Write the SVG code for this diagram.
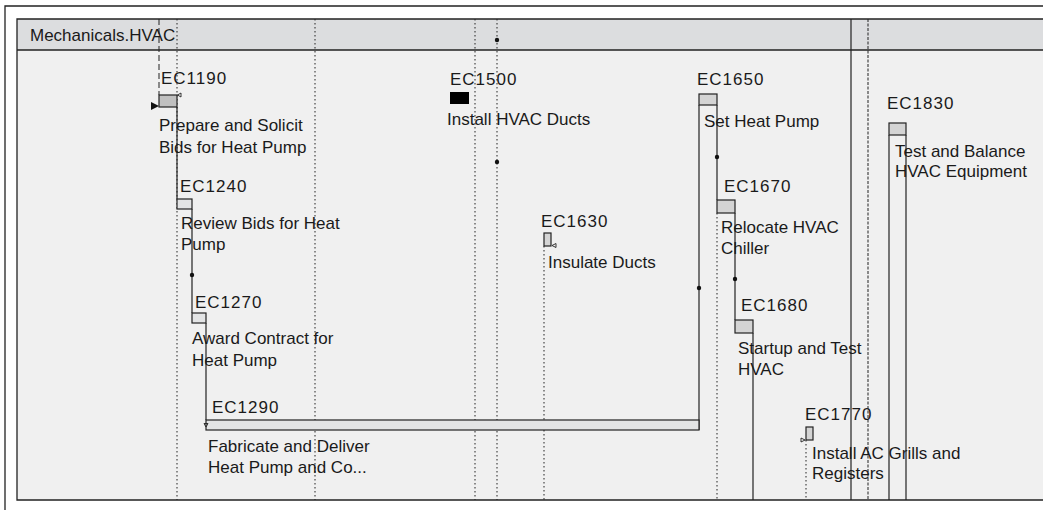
<svg xmlns="http://www.w3.org/2000/svg" width="1043" height="510" viewBox="0 0 1043 510">
<style>
text{font-family:"Liberation Sans",Arial,sans-serif;font-size:17px;fill:#1a1a1a}
.id{letter-spacing:1px}
.frame{fill:none;stroke:#222;stroke-width:1.3}
.solid{stroke:#222;stroke-width:1.2;fill:none}
.dot{stroke:#222;stroke-width:1;stroke-dasharray:1.5,2.5;fill:none}
.dash{stroke:#222;stroke-width:1;stroke-dasharray:6,3;fill:none}
.fdash{stroke:#222;stroke-width:1;stroke-dasharray:3,1.5;fill:none}
.bx{stroke:#222;stroke-width:1.2}
.g1{fill:#c0c0c0}
.g2{fill:#e3e4e5}
.g3{fill:#d4d4d4}
.pt{fill:#111}
.arr{fill:none;stroke:#222;stroke-width:0.9}
</style>
<rect x="0" y="0" width="1043" height="510" fill="#fff"/>
<path class="frame" d="M5,510 V6 H1043"/>
<g id="panel">
<rect x="17" y="19" width="1030" height="31" fill="#dcdddf"/>
<rect x="17" y="50" width="1030" height="450" fill="#f0f0f0"/>
<path class="frame" d="M1043,19 H17 V500 H1043 M17,50 H1043"/>
<text x="30" y="41">Mechanicals.HVAC</text>
</g>
<g id="connectors">
<line class="dash" x1="159" y1="19" x2="159" y2="95"/>
<line class="dot" x1="177" y1="19" x2="177" y2="500"/>
<line class="dot" x1="315" y1="19" x2="315" y2="500"/>
<line class="dot" x1="475" y1="19" x2="475" y2="500"/>
<line class="dot" x1="497" y1="19" x2="497" y2="500"/>
<circle class="pt" cx="497" cy="40" r="2.2"/>
<circle class="pt" cx="497" cy="162" r="2.2"/>
<line class="dot" x1="544" y1="246" x2="544" y2="500"/>
<line class="solid" x1="177" y1="107" x2="177" y2="199"/>
<line class="solid" x1="192" y1="209" x2="192" y2="313"/>
<circle class="pt" cx="192" cy="275" r="2.2"/>
<line class="solid" x1="206" y1="323" x2="206" y2="420"/>
<line class="solid" x1="699" y1="105" x2="699" y2="430"/>
<circle class="pt" cx="699" cy="288" r="2.2"/>
<line class="solid" x1="717" y1="105" x2="717" y2="200"/>
<circle class="pt" cx="717" cy="157" r="2.2"/>
<line class="dot" x1="717" y1="213" x2="717" y2="500"/>
<line class="solid" x1="735" y1="213" x2="735" y2="320"/>
<circle class="pt" cx="735" cy="279" r="2.2"/>
<line class="solid" x1="753" y1="333" x2="753" y2="500"/>
<line class="dot" x1="806" y1="440" x2="806" y2="500"/>
<line class="solid" x1="851" y1="19" x2="851" y2="500"/>
<line class="fdash" x1="868" y1="19" x2="868" y2="500"/>
<line class="solid" x1="889" y1="135" x2="889" y2="500"/>
<line class="solid" x1="906" y1="135" x2="906" y2="500"/>
</g>
<g id="EC1190">
<rect class="bx g1" x="159" y="95" width="18" height="12"/>
<polygon points="151,102 159,106 151,110" fill="#111"/>
<polygon class="arr" points="177.5,95 181,93 181,97"/>
<text class="id" x="161" y="84">EC1190</text>
<text x="159" y="131">Prepare and Solicit</text>
<text x="159" y="153">Bids for Heat Pump</text>
</g>
<g id="EC1240">
<rect class="bx g2" x="177" y="199" width="15" height="10"/>
<text class="id" x="180" y="192">EC1240</text>
<text x="181" y="229">Review Bids for Heat</text>
<text x="181" y="250">Pump</text>
</g>
<g id="EC1270">
<rect class="bx g2" x="192" y="313" width="14" height="10"/>
<text class="id" x="195" y="308">EC1270</text>
<text x="192" y="344">Award Contract for</text>
<text x="192" y="366">Heat Pump</text>
</g>
<g id="EC1290">
<rect class="bx g2" x="206" y="420" width="493" height="10"/>
<polygon class="arr" points="204,423.5 208,423.5 206,427"/>
<text class="id" x="212" y="413">EC1290</text>
<text x="208" y="452">Fabricate and Deliver</text>
<text x="208" y="473">Heat Pump and Co...</text>
</g>
<g id="EC1500">
<rect x="450" y="92" width="19" height="12" fill="#000"/>
<text class="id" x="450" y="85">EC1500</text>
<text x="447" y="125">Install HVAC Ducts</text>
</g>
<g id="EC1630">
<rect class="bx g3" x="544" y="233" width="7" height="13"/>
<polygon class="arr" points="552,245.5 556,243.5 556,247.5"/>
<text class="id" x="541" y="227">EC1630</text>
<text x="548" y="268">Insulate Ducts</text>
</g>
<g id="EC1650">
<rect class="bx g3" x="699" y="94" width="18" height="11"/>
<text class="id" x="697" y="85">EC1650</text>
<text x="704" y="127">Set Heat Pump</text>
</g>
<g id="EC1670">
<rect class="bx g3" x="717" y="200" width="18" height="13"/>
<text class="id" x="724" y="192">EC1670</text>
<text x="721" y="233">Relocate HVAC</text>
<text x="721" y="254">Chiller</text>
</g>
<g id="EC1680">
<rect class="bx g3" x="735" y="320" width="18" height="13"/>
<text class="id" x="741" y="311">EC1680</text>
<text x="738" y="354">Startup and Test</text>
<text x="738" y="375">HVAC</text>
</g>
<g id="EC1770">
<rect class="bx g3" x="806" y="427" width="7" height="13"/>
<polygon class="arr" points="801,438 805,440 801,442"/>
<text class="id" x="805" y="420">EC1770</text>
<text x="812" y="459">Install AC Grills and</text>
<text x="812" y="479">Registers</text>
</g>
<g id="EC1830">
<rect class="bx g3" x="889" y="123" width="17" height="12"/>
<text class="id" x="887" y="109">EC1830</text>
<text x="895" y="157">Test and Balance</text>
<text x="895" y="177">HVAC Equipment</text>
</g>
</svg>
